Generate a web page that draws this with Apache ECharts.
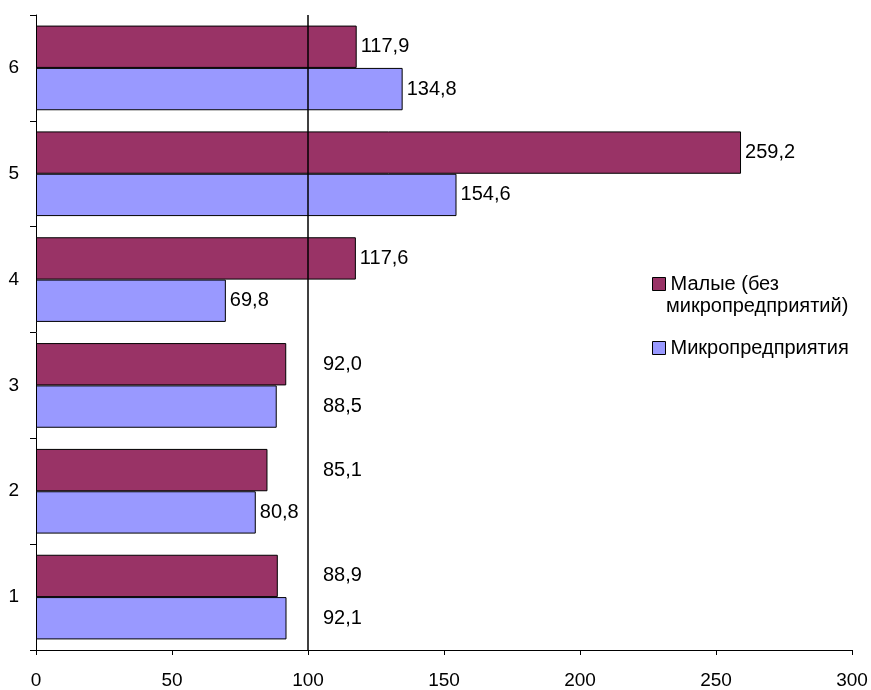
<!DOCTYPE html>
<html><head><meta charset="utf-8">
<script src="https://cdn.jsdelivr.net/npm/echarts@6/dist/echarts.min.js"></script>
<style>html,body{margin:0;padding:0;background:#fff}#c{width:871px;height:690px}</style>
</head><body><div id="c"></div>
<script>
const categories = ['1','2','3','4','5','6'];
const small = [88.9, 85.1, 92.0, 117.6, 259.2, 117.9];
const micro = [92.1, 80.8, 88.5, 69.8, 154.6, 134.8];
const xTicks = [0, 50, 100, 150, 200, 250, 300];
const nameSmall = 'Малые (без микропредприятий)';
const nameSmallLine1 = 'Малые (без';
const nameSmallLine2 = 'микропредприятий)';
const nameMicro = 'Микропредприятия';
// labels moved to the right of the 100 line (as in the source)
const shiftSmall = [true, true, true, false, false, false];
const shiftMicro = [true, false, true, false, false, false];
const shiftTo = 105.5;

const font = 'Liberation Sans, Arial, sans-serif';
const fmt = p => p.value.toFixed(1).replace('.', ',');
const chart = echarts.init(document.getElementById('c'));
function labelCfg() {
  return {show: true, position: 'right', distance: 4, formatter: fmt,
    color: '#000', fontSize: 20, fontFamily: font};
}
const legendText = {fontSize: 20, fontFamily: font, color: '#000', lineHeight: 24};
chart.setOption({
  animation: false,
  grid: {left: 36, right: 19, top: 15, bottom: 40, containLabel: false},
  legend: [
    {left: 647, top: 267, itemWidth: 13, itemHeight: 13, data: [nameSmall], icon: 'rect',
     formatter: () => nameSmallLine1, textStyle: legendText,
     itemStyle: {borderColor: '#000', borderWidth: 1}},
    {left: 647, top: 331, itemWidth: 13, itemHeight: 13, data: [nameMicro], icon: 'rect',
     textStyle: legendText, itemStyle: {borderColor: '#000', borderWidth: 1}}
  ],
  graphic: [{type: 'text', left: 666, top: 296,
    style: {text: nameSmallLine2, fontSize: 20, fontFamily: font, fill: '#000'}}],
  xAxis: {type: 'value', min: 0, max: 300, interval: 50,
    axisLine: {show: true, lineStyle: {color: '#000'}},
    axisTick: {show: true, length: 5, lineStyle: {color: '#000'}},
    axisLabel: {fontSize: 19, fontFamily: font, color: '#000', margin: 21,
      formatter: v => xTicks.includes(v) ? String(v) : ''},
    splitLine: {show: false}},
  yAxis: {type: 'category', data: categories,
    axisLine: {show: true, lineStyle: {color: '#000'}},
    axisTick: {show: true, length: 6, lineStyle: {color: '#000'}},
    axisLabel: {fontSize: 19, fontFamily: font, color: '#000', margin: 17}},
  series: [
    {name: nameSmall, type: 'bar', data: small, barGap: '0%', barCategoryGap: '20%',
     itemStyle: {color: '#993366', borderColor: '#000', borderWidth: 1},
     label: labelCfg(),
     markLine: {silent: true, symbol: 'none', label: {show: false},
       lineStyle: {color: '#000', width: 1.5, type: 'solid'}, data: [{xAxis: 100}]}},
    {name: nameMicro, type: 'bar', data: micro, barGap: '0%', barCategoryGap: '20%',
     itemStyle: {color: '#9999FF', borderColor: '#000', borderWidth: 1},
     label: labelCfg()}
  ]
});
function build(values, shift) {
  return values.map((v, i) => {
    if (!shift[i]) return v;
    const dx = chart.convertToPixel({xAxisIndex: 0}, shiftTo) - chart.convertToPixel({xAxisIndex: 0}, v) - 4;
    return {value: v, label: {offset: [dx, 0]}};
  });
}
chart.setOption({series: [{data: build(small, shiftSmall)}, {data: build(micro, shiftMicro)}]});
</script></body></html>
